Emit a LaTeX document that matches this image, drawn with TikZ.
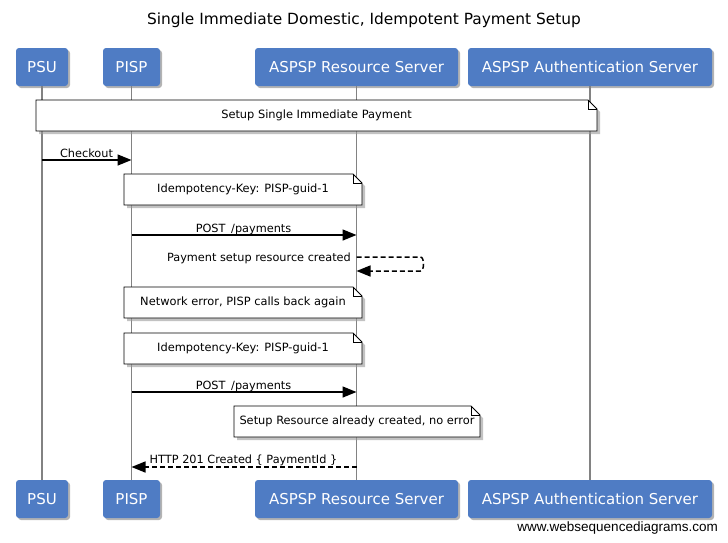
\documentclass[tikz,border=0pt]{standalone}
\usepackage{fontspec}
\setmainfont{DejaVu Sans}
\newfontfamily\footfont{Liberation Sans}
\usetikzlibrary{arrows.meta,shadows}
\definecolor{actorblue}{RGB}{79,124,196}
\definecolor{lifegray}{RGB}{130,130,130}
\newcommand\notebox[6]{%
  \draw[note] (#2,#3) -- ({#4-9},#3) -- (#4,{#3+9}) -- (#4,#5) -- (#2,#5) -- cycle;
  \draw[line width=0.6pt] ({#4-9},#3) -- ({#4-9},{#3+9}) -- (#4,{#3+9});
  \node[notetext] (#1) at ({(#2+#4)/2},{(#3+#5)/2}) {#6};}
\begin{document}
\begin{tikzpicture}[x=1pt,y=-1pt,
  actor/.style={fill=actorblue, rounded corners=3pt, text=white,
    font=\fontsize{15}{18}\selectfont, minimum height=38pt, inner sep=0pt,
    drop shadow={shadow xshift=2pt, shadow yshift=-2pt, fill=black!50, opacity=0.6}},
  life/.style={draw=lifegray, line width=1.5pt},
  note/.style={draw=black, fill=white, line width=0.9pt,
    drop shadow={shadow xshift=3pt, shadow yshift=-3pt, fill=black!40, opacity=0.6}},
  notetext/.style={font=\fontsize{11.4}{13}\selectfont, inner sep=0pt},
  msg/.style={draw=black, line width=1.5pt, -{Triangle[length=14pt,width=11pt]}},
  reply/.style={msg, dash pattern=on 5pt off 3pt},
  lbl/.style={font=\fontsize{11.3}{13}\selectfont, inner sep=0pt, anchor=base}]
\useasboundingbox (0,0) rectangle (728,542);
\node[font=\fontsize{15.4}{18}\selectfont] (title) at (364,20) {Single Immediate Domestic, Idempotent Payment Setup};
% actors top
\node[actor, minimum width=52pt]  (psuT) at (42,67)    {PSU};
\node[actor, minimum width=57pt]  (pispT) at (131.5,67) {PISP};
\node[actor, minimum width=203pt] (rsT) at (356.5,67)   {ASPSP Resource Server};
\node[actor, minimum width=244pt] (asT) at (590,67)     {ASPSP Authentication Server};
% actors bottom
\node[actor, minimum width=52pt]  (psuB) at (42,499)    {PSU};
\node[actor, minimum width=57pt]  (pispB) at (131.5,499) {PISP};
\node[actor, minimum width=203pt] (rsB) at (356.5,499)   {ASPSP Resource Server};
\node[actor, minimum width=244pt] (asB) at (590,499)     {ASPSP Authentication Server};
% lifelines
\draw[life] (psuT.south) -- (psuB.north);
\draw[life] (pispT.south) -- (pispB.north);
\draw[life] (rsT.south) -- (rsB.north);
\draw[life] (asT.south) -- (asB.north);
% notes
\notebox{n1}{36}{100}{597}{131}{Setup Single Immediate Payment}
\notebox{n2}{124}{174}{362}{205}{Idempotency-Key: PISP-guid-1}
\notebox{n3}{124}{287}{362}{318}{Network error, PISP calls back again}
\notebox{n4}{124}{333}{362}{364}{Idempotency-Key: PISP-guid-1}
\notebox{n5}{234}{406}{480}{437}{Setup Resource already created, no error}
% message coordinates
\coordinate (m1a) at (psuT |- 0,160);  \coordinate (m1b) at (pispT |- 0,160);
\coordinate (m2a) at (pispT |- 0,235); \coordinate (m2b) at (rsT |- 0,235);
\coordinate (m3a) at (rsT |- 0,257);   \coordinate (m3b) at (rsT |- 0,271);
\coordinate (m4a) at (pispT |- 0,392); \coordinate (m4b) at (rsT |- 0,392);
\coordinate (m5a) at (rsT |- 0,467);   \coordinate (m5b) at (pispT |- 0,467);
% messages
\draw[msg] (m1a) -- (m1b);
\node[lbl] (l1) at (86.5,157) {Checkout};
\draw[msg] (m2a) -- (m2b);
\node[lbl] (l2) at (243.5,232) {POST\hspace{0.5em}/payments};
\draw[reply] (m3a) -- ++(64,0) .. controls ++(4,0) and ++(4,0) .. ([xshift=64pt]m3b) -- (m3b);
\node[lbl, anchor=base east] (l3) at (351,261) {Payment setup resource created};
\draw[msg] (m4a) -- (m4b);
\node[lbl] (l4) at (243.5,389) {POST\hspace{0.5em}/payments};
\draw[reply] (m5a) -- (m5b);
\node[lbl] (l5) at (243.5,463) {HTTP 201 Created \{ PaymentId \}};
\node[font=\footfont\fontsize{13.5}{16}\selectfont, anchor=base east, inner sep=0pt] (foot) at (718,531) {www.websequencediagrams.com};
\end{tikzpicture}
\end{document}
